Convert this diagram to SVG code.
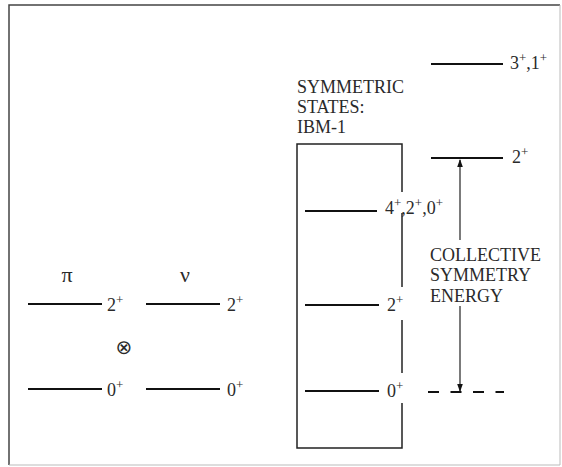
<svg xmlns="http://www.w3.org/2000/svg" width="562" height="467" viewBox="0 0 562 467">
<defs>
<style>
text{font-family:"Liberation Serif","Times New Roman",serif;fill:#2a2a2a;font-size:18px}
.sup{font-size:13px}
.greek{font-size:22px}
.lvl{stroke:#111;stroke-width:2;fill:none}
.box{stroke:#222;stroke-width:1.5;fill:none}
.conn{stroke:#222;stroke-width:1.2;fill:none}
</style>
<marker id="ah" markerWidth="8" markerHeight="8" refX="7" refY="4" orient="auto" markerUnits="userSpaceOnUse">
<path d="M0,1.2 L8,4 L0,6.8 Z" fill="#111"/>
</marker>
</defs>
<rect width="562" height="467" fill="#fff"/>
<g id="frame">
<path d="M9,465 L9,5 L560,5" fill="none" stroke="#444" stroke-width="1.5"/>
<path d="M560,5 L560,465 L9,465" fill="none" stroke="#bbb" stroke-width="1"/>
</g>
<g id="pi-label"><text class="greek" x="67" y="282" text-anchor="middle">π</text></g>
<g id="nu-label"><text class="greek" x="185" y="282" text-anchor="middle">ν</text></g>
<g id="pi-2plus"><line class="lvl" x1="28" y1="304" x2="102" y2="304"/><text x="107" y="311">2<tspan class="sup" dy="-7">+</tspan></text></g>
<g id="nu-2plus"><line class="lvl" x1="146" y1="304" x2="220" y2="304"/><text x="227" y="311">2<tspan class="sup" dy="-7">+</tspan></text></g>
<g id="otimes"><text x="124" y="354" text-anchor="middle" style="font-family:'DejaVu Sans',sans-serif;font-size:20px">⊗</text></g>
<g id="pi-0plus"><line class="lvl" x1="28" y1="389" x2="102" y2="389"/><text x="107" y="396">0<tspan class="sup" dy="-7">+</tspan></text></g>
<g id="nu-0plus"><line class="lvl" x1="146" y1="389" x2="220" y2="389"/><text x="227" y="396">0<tspan class="sup" dy="-7">+</tspan></text></g>
<g id="ibm-title"><text x="297" y="93">SYMMETRIC</text><text x="297" y="113">STATES:</text><text x="297" y="133">IBM-1</text></g>
<g id="ibm-box">
<path class="box" d="M402,192 L402,144 L297,144 L297,448 L402,448 L402,403"/>
<line class="box" x1="402" y1="213" x2="402" y2="287"/>
<line class="box" x1="402" y1="320" x2="402" y2="373"/>
</g>
<g id="ibm-420"><line class="lvl" x1="305" y1="211" x2="377" y2="211"/><text x="385" y="214">4<tspan class="sup" dy="-7">+</tspan><tspan dy="7">,2</tspan><tspan class="sup" dy="-7">+</tspan><tspan dy="7">,0</tspan><tspan class="sup" dy="-7">+</tspan></text></g>
<g id="ibm-2plus"><line class="lvl" x1="305" y1="305" x2="379" y2="305"/><text x="387" y="311">2<tspan class="sup" dy="-7">+</tspan></text></g>
<g id="ibm-0plus"><line class="lvl" x1="305" y1="391" x2="379" y2="391"/><text x="387" y="397">0<tspan class="sup" dy="-7">+</tspan></text></g>
<g id="lvl-31"><line class="lvl" x1="431" y1="64" x2="503" y2="64"/><text x="510" y="69">3<tspan class="sup" dy="-7">+</tspan><tspan dy="7">,1</tspan><tspan class="sup" dy="-7">+</tspan></text></g>
<g id="lvl-2"><line class="lvl" x1="431" y1="158" x2="503" y2="158"/><text x="512" y="163">2<tspan class="sup" dy="-7">+</tspan></text></g>
<g id="lvl-0-dashed"><line class="lvl" x1="428" y1="392" x2="504" y2="392" stroke-dasharray="11,11.5"/></g>
<g id="cse-label"><text x="430" y="261">COLLECTIVE</text><text x="430" y="281">SYMMETRY</text><text x="430" y="302">ENERGY</text></g>
<g id="connectors">
<line class="conn" x1="460" y1="240" x2="460" y2="160" marker-end="url(#ah)"/>
<line class="conn" x1="460" y1="306" x2="460" y2="391" marker-end="url(#ah)"/>
</g>
</svg>
